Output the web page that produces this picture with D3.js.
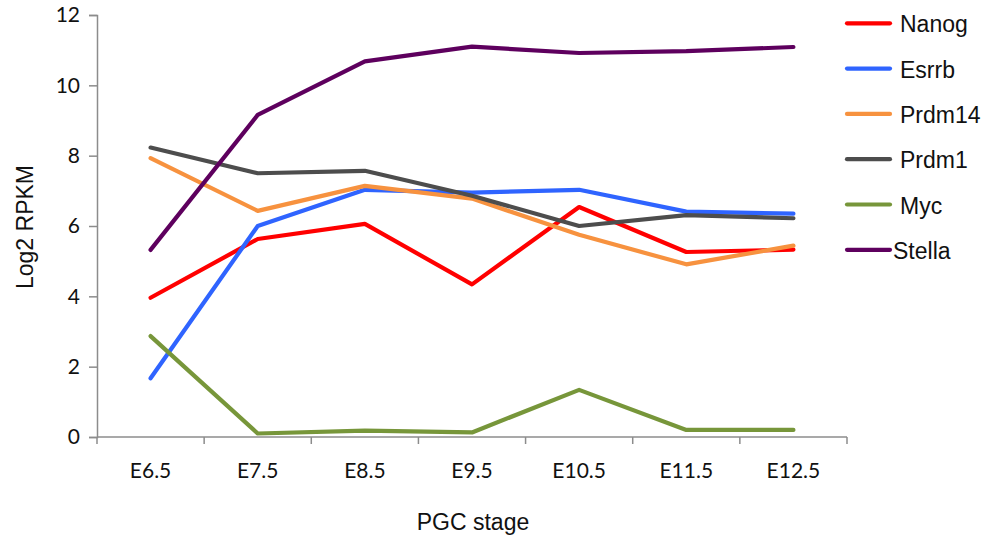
<!DOCTYPE html>
<html><head><meta charset="utf-8">
<script src="https://cdn.jsdelivr.net/npm/d3@7"></script>
<style>body{margin:0;background:#fff}svg{display:block}</style>
</head><body>
<script>
const stages = ["E6.5","E7.5","E8.5","E9.5","E10.5","E11.5","E12.5"];
const nanog  = [3.96, 5.63, 6.06, 4.34, 6.54, 5.26, 5.33];
const esrrb  = [1.67, 6.00, 7.03, 6.95, 7.03, 6.41, 6.35];
const prdm14 = [7.93, 6.43, 7.14, 6.78, 5.75, 4.91, 5.44];
const prdm1  = [8.23, 7.50, 7.57, 6.86, 6.00, 6.31, 6.22];
const myc    = [2.87, 0.10, 0.18, 0.13, 1.34, 0.20, 0.20];
const stella = [5.32, 9.16, 10.68, 11.10, 10.92, 10.97, 11.09];
const yTicks = [0, 2, 4, 6, 8, 10, 12];
const seriesNames = ["Nanog","Esrrb","Prdm14","Prdm1","Myc","Stella"];
const seriesValues = [nanog, esrrb, prdm14, prdm1, myc, stella];
const colors = ["#ff0000","#2f64ff","#f7923f","#4d4d4d","#77963a","#5e005e"];

(function(){
const W = 997, H = 544;
const svg = d3.select("body").append("svg").attr("width", W).attr("height", H);
const pLeft = 97, pRight = 847, pTop = 15, pBottom = 437;

const x = d3.scaleBand().domain(stages).range([pLeft, pRight]);
const y = d3.scaleLinear().domain([0, 12]).range([pBottom, pTop]);
const axisColor = "#8c8c8c";
const tickFont = "Lato, 'Open Sans', sans-serif";
const titleFont = "'Liberation Sans', Arial, sans-serif";

// y axis
const ya = svg.append("g").attr("transform", `translate(${pLeft},0)`)
  .call(d3.axisLeft(y).tickValues(yTicks).tickSize(8).tickPadding(9));
ya.select(".domain").attr("stroke", axisColor).attr("stroke-width", 1.5);
ya.selectAll(".tick line").attr("stroke", axisColor).attr("stroke-width", 1.5);
ya.selectAll(".tick text").attr("font-family", tickFont).attr("font-size", 21).attr("fill", "#111");

// x axis with ticks at band boundaries
const xa = svg.append("g").attr("transform", `translate(0,${pBottom})`);
xa.append("line").attr("x1", pLeft).attr("x2", pRight).attr("stroke", axisColor).attr("stroke-width", 1.5);
const bounds = stages.map(s => x(s)).concat([pRight]);
xa.selectAll("line.tk").data(bounds).join("line").attr("class","tk")
  .attr("x1", d => d).attr("x2", d => d).attr("y1", 0).attr("y2", 7)
  .attr("stroke", axisColor).attr("stroke-width", 1.5);
xa.selectAll("text").data(stages).join("text")
  .attr("x", d => x(d) + x.bandwidth()/2).attr("y", 41)
  .attr("text-anchor", "middle")
  .attr("font-family", tickFont).attr("font-size", 21).attr("fill", "#111")
  .text(d => d);

// axis titles
svg.append("text").attr("x", 473).attr("y", 530).attr("text-anchor", "middle")
  .attr("font-family", titleFont).attr("font-size", 23).attr("fill", "#111")
  .text("PGC stage");
svg.append("text").attr("transform", "translate(33,227) rotate(-90)").attr("text-anchor", "middle")
  .attr("font-family", titleFont).attr("font-size", 23).attr("fill", "#111")
  .text("Log2 RPKM");

// lines
const line = d3.line().x((d, i) => x(stages[i]) + x.bandwidth()/2).y(d => y(d));
seriesValues.forEach((vals, k) => {
  svg.append("path").datum(vals).attr("d", line).attr("fill", "none")
    .attr("stroke", colors[k]).attr("stroke-width", 4.2)
    .attr("stroke-linejoin", "round").attr("stroke-linecap", "round");
});

// legend
const lg = svg.append("g");
seriesNames.forEach((n, k) => {
  const ly = 23.3 + k * 45.3;
  lg.append("line").attr("x1", 847).attr("x2", 890).attr("y1", ly).attr("y2", ly)
    .attr("stroke", colors[k]).attr("stroke-width", 4.2).attr("stroke-linecap", "round");
  lg.append("text").attr("x", n === "Stella" ? 893 : 900).attr("y", ly + 9)
    .attr("font-family", titleFont).attr("font-size", 23).attr("fill", "#111")
    .text(n);
});
})();
</script>
</body></html>
